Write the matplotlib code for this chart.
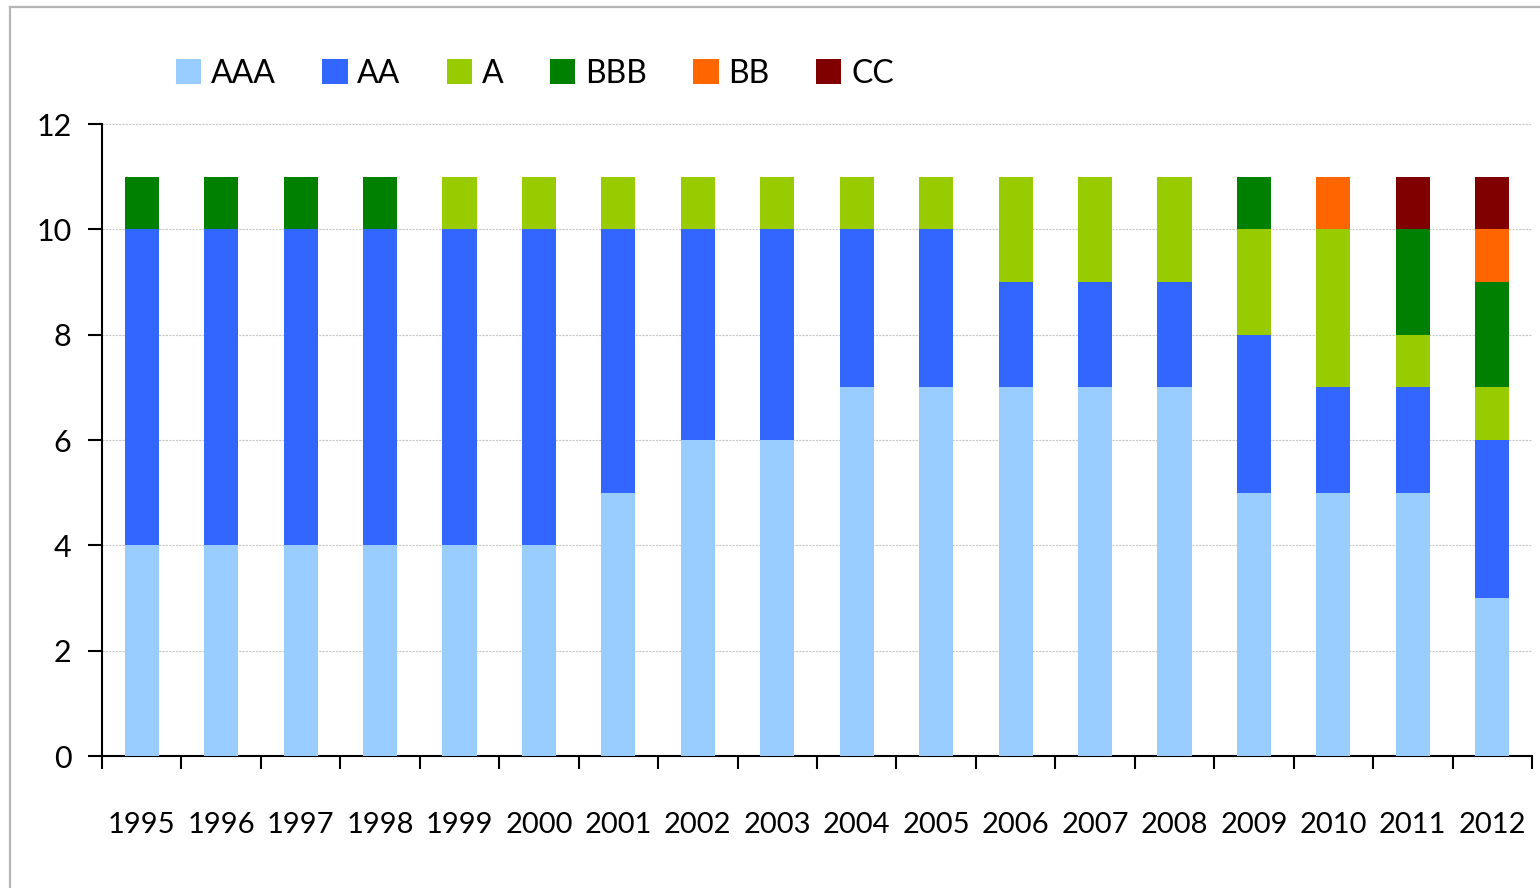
import matplotlib.pyplot as plt
import numpy as np
from matplotlib.lines import Line2D

plt.rcParams['font.family'] = ['Lato', 'DejaVu Sans']

years = [str(y) for y in range(1995, 2013)]
ratings = ['AAA', 'AA', 'A', 'BBB', 'BB', 'CC']
colors = ['#99ccff', '#3366ff', '#99cc00', '#008000', '#ff6600', '#800000']

# counts per rating, per year
aaa = [4, 4, 4, 4, 4, 4, 5, 6, 6, 7, 7, 7, 7, 7, 5, 5, 5, 3]
aa = [6, 6, 6, 6, 6, 6, 5, 4, 4, 3, 3, 2, 2, 2, 3, 2, 2, 3]
a = [0, 0, 0, 0, 1, 1, 1, 1, 1, 1, 1, 2, 2, 2, 2, 3, 1, 1]
bbb = [1, 1, 1, 1, 0, 0, 0, 0, 0, 0, 0, 0, 0, 0, 1, 0, 2, 2]
bb = [0, 0, 0, 0, 0, 0, 0, 0, 0, 0, 0, 0, 0, 0, 0, 1, 0, 1]
cc = [0, 0, 0, 0, 0, 0, 0, 0, 0, 0, 0, 0, 0, 0, 0, 0, 1, 1]
series = [aaa, aa, a, bbb, bb, cc]

fig = plt.figure(figsize=(15.4, 8.88), dpi=100)
ax = fig.add_axes([102/1540, 132/888, 1430/1540, 632/888])

x = np.arange(len(years))
bottom = np.zeros(len(years))
for name, vals, col in zip(ratings, series, colors):
    ax.bar(x, vals, width=0.43, bottom=bottom, color=col, label=name, zorder=3)
    bottom += np.array(vals)

ax.set_xlim(-0.5, len(years) - 0.5)
ax.set_ylim(0, 12)
ax.set_yticks(range(0, 13, 2))
ax.grid(axis='y', color='#c8c8c8', linestyle=(0, (2, 1)), linewidth=0.8, zorder=0)

ax.spines['top'].set_visible(False)
ax.spines['right'].set_visible(False)
ax.spines['left'].set_linewidth(1.5)
ax.spines['bottom'].set_linewidth(1.5)

ax.set_xticks(x)
ax.set_xticklabels(years)
ax.set_xticks(np.arange(-0.5, len(years)), minor=True)
ax.tick_params(axis='x', which='major', length=0, pad=40, labelsize=21)
ax.tick_params(axis='x', which='minor', length=9, width=1.5, direction='out')
ax.tick_params(axis='y', length=10, width=1.5, pad=12, labelsize=22)

fig.legend(loc='upper left', bbox_to_anchor=(163/1540, 1 - 46/888), ncol=6,
           frameon=False, fontsize=23, handlelength=0.8, handleheight=0.8,
           handletextpad=0.3, columnspacing=1.45, borderaxespad=0)

# outer frame (cut off at right and bottom)
fig.add_artist(Line2D([10/1540, 1], [1 - 7/888, 1 - 7/888], color='#b5b5b5', linewidth=1.6))
fig.add_artist(Line2D([10/1540, 10/1540], [0, 1 - 7/888], color='#b5b5b5', linewidth=1.6))

fig.savefig('out.png', dpi=100)
